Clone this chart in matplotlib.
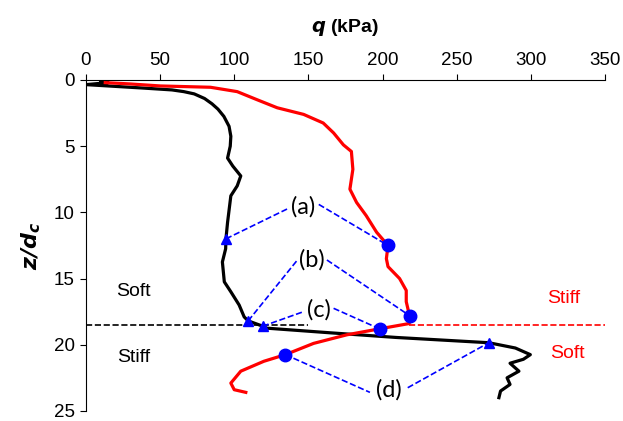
import matplotlib.pyplot as plt

plt.rcParams['font.family'] = ['Liberation Sans', 'DejaVu Sans']

# black profile (q in kPa, z/dc)
q_black = [10, 15, 0, 40, 58, 66, 73, 80, 85, 89, 93, 96.5, 97.7, 97.3, 95.5, 99, 104.4, 102,
           97.7, 96.6, 95.5, 94.4, 94.2, 92, 93.3, 97.7, 103.3, 106.7, 109.4, 119.2, 122,
           164.7, 209, 271.7, 289.6, 299.7, 295, 286, 292, 284, 286, 279.6, 278.5]
z_black = [0.1, 0.2, 0.35, 0.62, 0.75, 0.88, 1.05, 1.4, 1.8, 2.2, 2.75, 3.5, 4.25, 5, 5.9,
           6.5, 7.25, 8, 8.75, 9.75, 10.75, 12, 12.75, 13.75, 15.25, 16, 17, 17.9, 18.2,
           18.6, 18.75, 19.1, 19.45, 19.85, 20.25, 20.75, 21.1, 21.4, 22, 22.5, 23, 23.5, 24]

# red profile
q_red = [13, 30, 50, 84, 102, 115.6, 129, 146.8, 160, 167, 173.6, 179, 180, 178, 182.5,
         189, 196, 203.7, 202.6, 203.7, 211.5, 216, 216, 218.2, 218, 198, 176, 153.5,
         134.5, 120, 104.4, 97.7, 100, 107.8]
z_red = [0.2, 0.3, 0.45, 0.55, 0.88, 1.5, 2.1, 2.6, 3.25, 4, 4.9, 5.4, 6.75, 8.25, 9.25,
         10.25, 11.5, 12.5, 13.5, 14.1, 15, 15.9, 16.75, 17.8, 18.4, 18.8, 19.25, 19.9,
         20.75, 21.25, 22, 22.9, 23.4, 23.6]

labels = ['(a)', '(b)', '(c)', '(d)']
# triangle on black, circle on red
tri_q = [94.4, 109.4, 119.2, 271.7]
tri_z = [12, 18.2, 18.6, 19.85]
dot_q = [203.7, 218.2, 198, 134.5]
dot_z = [12.5, 17.8, 18.8, 20.75]
# where the dashed leaders meet the label (left end / right end)
lab_left_q = [135.6, 142.6, 146.8, 191.5]
lab_left_z = [9.75, 13.6, 17.5, 23.6]
lab_right_q = [157, 162.5, 167, 217]
lab_right_z = [9.4, 13.6, 17.25, 23.25]

interface_z = 18.5

fig = plt.figure(figsize=(6.23, 4.21), dpi=100)
ax = fig.add_axes([0.138, 0.024, 0.833, 0.786])

ax.plot(q_black, z_black, color='black', lw=2.3, zorder=3)
ax.plot(q_red, z_red, color='red', lw=2.3, zorder=3)

ax.plot([0, 150], [interface_z, interface_z], color='black', ls='--', lw=1.2, zorder=2)
ax.plot([218, 350], [interface_z, interface_z], color='red', ls='--', lw=1.2, zorder=2)

blue = '#0000ff'
for i, lab in enumerate(labels):
    if tri_q[i] < dot_q[i]:
        left = (tri_q[i], tri_z[i])
        right = (dot_q[i], dot_z[i])
    else:
        left = (dot_q[i], dot_z[i])
        right = (tri_q[i], tri_z[i])
    ax.plot([left[0], lab_left_q[i]], [left[1], lab_left_z[i]], color=blue, ls='--', lw=1.2, zorder=4)
    ax.plot([lab_right_q[i], right[0]], [lab_right_z[i], right[1]], color=blue, ls='--', lw=1.2, zorder=4)
    ax.text((lab_left_q[i] + lab_right_q[i]) / 2, (lab_left_z[i] + lab_right_z[i]) / 2, lab,
            ha='center', va='center', fontsize=17, family=['Lato', 'DejaVu Sans'], zorder=5)

ax.plot(tri_q, tri_z, ls='none', marker='^', color=blue, ms=7, zorder=6)
ax.plot(dot_q, dot_z, ls='none', marker='o', color=blue, ms=9, zorder=6)

ax.text(32, 16.0, 'Soft', fontsize=14, ha='center', va='center')
ax.text(32, 21.0, 'Stiff', fontsize=14, ha='center', va='center')
ax.text(322, 16.5, 'Stiff', fontsize=14, ha='center', va='center', color='red')
ax.text(325, 20.7, 'Soft', fontsize=14, ha='center', va='center', color='red')

ax.set_xlim(0, 350)
ax.set_ylim(25, 0)
ax.xaxis.tick_top()
ax.xaxis.set_label_position('top')
ax.set_xticks(range(0, 351, 50))
ax.set_yticks(range(0, 26, 5))
ax.spines['right'].set_visible(False)
ax.spines['bottom'].set_visible(False)
ax.tick_params(labelsize=13.5, direction='out', length=4, pad=4)
ax.set_xlabel(r'$\bfit{q}$ (kPa)', fontsize=14, fontweight='bold', labelpad=14)
ax.set_ylabel(r'$\bfit{z/d_c}$', fontsize=16, labelpad=8)

plt.savefig('out.png', dpi=100)
